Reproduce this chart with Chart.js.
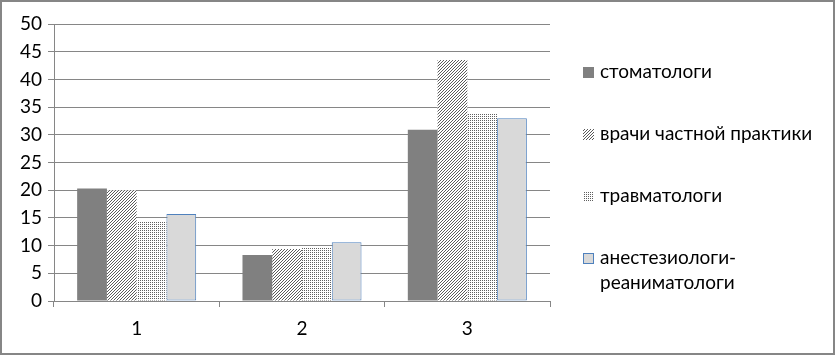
<!DOCTYPE html>
<html>
<head>
<meta charset="utf-8">
<script src="https://cdn.jsdelivr.net/npm/chart.js@4/dist/chart.umd.min.js"></script>
<style>
  body { margin: 0; background: #fff; }
  canvas { display: block; }
</style>
</head>
<body>
<canvas id="chart" width="835" height="355"></canvas>
<script>
const categories = ['1', '2', '3'];
const seriesNames = ['стоматологи', 'врачи частной практики', 'травматологи', ['анестезиологи-', 'реаниматологи']];
const stomatologists = [20.3, 8.3, 30.9];
const privateDoctors = [20.0, 9.4, 43.5];
const traumatologists = [14.3, 9.7, 33.8];
const anesthesiologists = [15.7, 10.6, 33.0];
const yTicks = [0, 5, 10, 15, 20, 25, 30, 35, 40, 45, 50];

const FONT = 'Lato, "Open Sans", sans-serif';
const FONT_SIZE = 19;

// small pattern canvases for the hatched / dotted fills
function makePattern(size, paint) {
    const c = document.createElement('canvas');
    c.width = size; c.height = size;
    const g = c.getContext('2d');
    g.fillStyle = '#fff';
    g.fillRect(0, 0, size, size);
    paint(g);
    return document.getElementById('chart').getContext('2d').createPattern(c, 'repeat');
}

const hatch = makePattern(3, g => {
    for (let x = 0; x < 3; x++) {
        for (let y = 0; y < 3; y++) {
            if ((x + y) % 3 === 2) { g.fillStyle = '#5a5a5a'; g.fillRect(x, y, 1, 1); }
        }
    }
});

const dots = makePattern(2, g => {
    g.fillStyle = '#606060';
    g.fillRect(0, 0, 1, 1);
});

const fills = ['#808080', hatch, dots, '#d9d9d9'];

const frame = {
    id: 'frame',
    beforeDraw(chart) {
        const ctx = chart.ctx;
        ctx.save();
        ctx.fillStyle = '#fff';
        ctx.fillRect(0, 0, chart.width, chart.height);
        ctx.restore();
    },
    afterDraw(chart) {
        const ctx = chart.ctx;
        ctx.save();
        ctx.strokeStyle = '#868686';
        ctx.lineWidth = 2;
        ctx.strokeRect(1, 1, chart.width - 2, chart.height - 2);

        // legend on the right
        const rows = [72, 134, 196, 258];
        ctx.font = FONT_SIZE + 'px ' + FONT;
        ctx.textBaseline = 'middle';
        chart.data.datasets.forEach((ds, i) => {
            const y = rows[i];
            ctx.fillStyle = ds.backgroundColor;
            ctx.fillRect(583, y - 5, 11, 11);
            if (ds.borderWidth) {
                ctx.strokeStyle = ds.borderColor;
                ctx.lineWidth = 1;
                ctx.strokeRect(583.5, y - 4.5, 10, 10);
            }
            ctx.fillStyle = '#000';
            const lines = Array.isArray(seriesNames[i]) ? seriesNames[i] : [seriesNames[i]];
            lines.forEach((t, j) => ctx.fillText(t, 600, y + j * 25));
        });
        ctx.restore();
    }
};

new Chart(document.getElementById('chart'), {
    type: 'bar',
    data: {
        labels: categories,
        datasets: [stomatologists, privateDoctors, traumatologists, anesthesiologists].map((d, i) => ({
            label: Array.isArray(seriesNames[i]) ? seriesNames[i].join('') : seriesNames[i],
            data: d,
            backgroundColor: fills[i],
            borderColor: i === 3 ? '#4f81bd' : 'transparent',
            borderWidth: i === 3 ? 1 : 0,
            borderSkipped: false,
            barPercentage: 1,
            categoryPercentage: 0.72
        }))
    },
    options: {
        responsive: false,
        animation: false,
        layout: { padding: { left: 0, top: 24, right: 285, bottom: 0 } },
        plugins: { legend: { display: false }, tooltip: { enabled: false } },
        scales: {
            x: {
                afterFit(scale) { scale.height = 54; },
                grid: { offset: true, drawOnChartArea: false, drawTicks: true, tickLength: 6, color: '#868686' },
                border: { color: '#868686' },
                ticks: { color: '#000', font: { family: FONT, size: FONT_SIZE }, padding: 10 }
            },
            y: {
                min: 0,
                max: 50,
                afterFit(scale) { scale.width = 54; },
                afterBuildTicks(scale) { scale.ticks = yTicks.map(v => ({ value: v })); },
                grid: { color: '#868686', tickLength: 6 },
                border: { color: '#868686' },
                ticks: { color: '#000', font: { family: FONT, size: FONT_SIZE }, padding: 6 }
            }
        }
    },
    plugins: [frame]
});
</script>
</body>
</html>
